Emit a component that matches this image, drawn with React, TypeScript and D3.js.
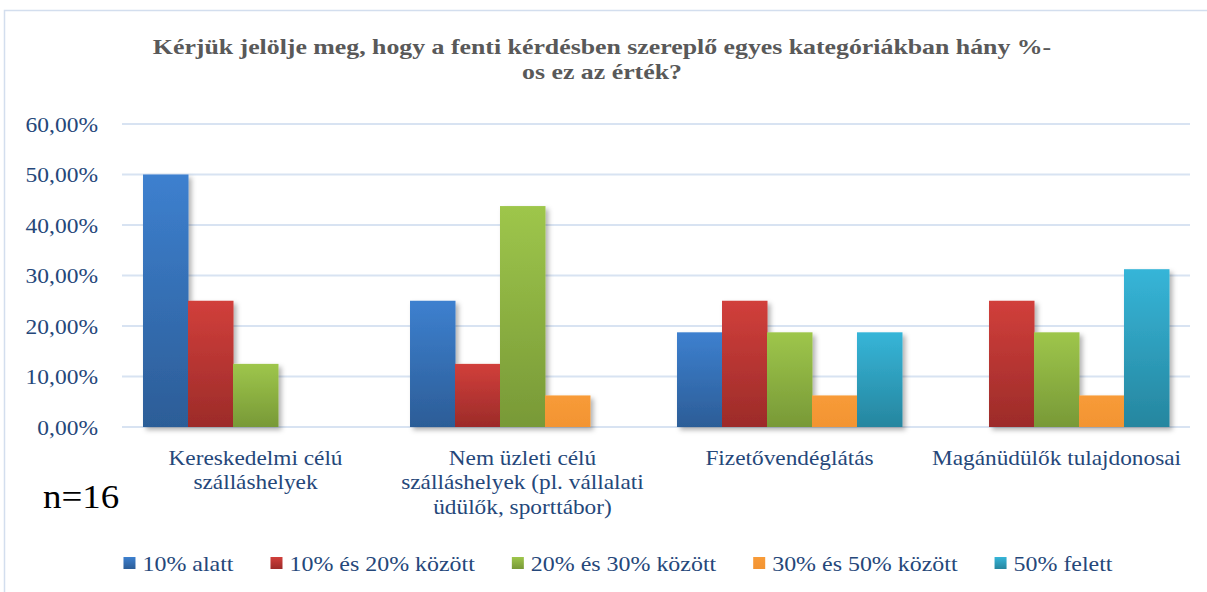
import React, { useRef, useEffect } from "react";
import * as d3 from "d3";

const title = [
  "Kérjük jelölje meg, hogy a fenti kérdésben szereplő egyes kategóriákban hány %-",
  "os ez az érték?",
];
const categories = [
  ["Kereskedelmi célú", "szálláshelyek"],
  ["Nem üzleti célú", "szálláshelyek (pl. vállalati", "üdülők, sporttábor)"],
  ["Fizetővendéglátás"],
  ["Magánüdülők tulajdonosai"],
];
const seriesNames = [
  "10% alatt",
  "10% és 20% között",
  "20% és 30% között",
  "30% és 50% között",
  "50% felett",
];
// share of respondents per category (n=16)
const under10 = [0.5, 0.25, 0.1875, 0];
const from10to20 = [0.25, 0.125, 0.25, 0.25];
const from20to30 = [0.125, 0.4375, 0.1875, 0.1875];
const from30to50 = [0, 0.0625, 0.0625, 0.0625];
const over50 = [0, 0, 0.1875, 0.3125];
const yTicks = [0, 0.1, 0.2, 0.3, 0.4, 0.5, 0.6];

const seriesValues = [under10, from10to20, from20to30, from30to50, over50];
// top / bottom gradient colours
const seriesColors = [
  ["#3D80CF", "#2C5D97"],
  ["#D13F3B", "#9C2B29"],
  ["#9EC64B", "#789937"],
  ["#F89B38", "#F29432"],
  ["#36B5D8", "#26869F"],
];

const FONT = "Liberation Serif, Times New Roman, DejaVu Serif, serif";
const TEXT_COLOR = "#25477A";

export default function App() {
  const svgRef = useRef<SVGSVGElement>(null);

  useEffect(() => {
    const svg = d3.select(svgRef.current);
    svg.selectAll("*").remove();

    const margin = { top: 124, left: 122, right: 17, bottom: 165 };
    const W = 1207;
    const H = 592;

    const defs = svg.append("defs");
    seriesColors.forEach((c, i) => {
      const g = defs
        .append("linearGradient")
        .attr("id", "grad" + i)
        .attr("x1", 0)
        .attr("y1", 0)
        .attr("x2", 0)
        .attr("y2", 1);
      g.append("stop").attr("offset", "0%").attr("stop-color", c[0]);
      g.append("stop").attr("offset", "100%").attr("stop-color", c[1]);
    });
    const f = defs
      .append("filter")
      .attr("id", "shadow")
      .attr("x", "-20%")
      .attr("y", "-20%")
      .attr("width", "150%")
      .attr("height", "150%");
    f.append("feDropShadow")
      .attr("dx", 3)
      .attr("dy", 3)
      .attr("stdDeviation", 2.5)
      .attr("flood-color", "#000")
      .attr("flood-opacity", 0.3);

    // chart border
    svg
      .append("path")
      .attr("d", `M4.5,${H} V10.5 H${W}`)
      .attr("fill", "none")
      .attr("stroke", "#D3DEEE")
      .attr("stroke-width", 1.5);

    // title (text in the source is a little stretched horizontally)
    svg
      .append("g")
      .attr("transform", "translate(602,0) scale(1.23,1)")
      .append("text")
      .style("font-family", FONT)
      .attr("font-weight", "bold")
      .attr("font-size", 21)
      .attr("fill", "#595959")
      .attr("text-anchor", "middle")
      .selectAll("tspan")
      .data(title)
      .enter()
      .append("tspan")
      .attr("x", 0)
      .attr("y", (d, i) => 54 + i * 25)
      .text((d) => d);

    const x0 = d3
      .scaleBand()
      .domain(categories.map((d, i) => String(i)))
      .range([margin.left, W - margin.right])
      .padding(0);
    const x1 = d3
      .scaleBand()
      .domain(seriesNames)
      .range([0, x0.bandwidth()])
      .paddingInner(0)
      .paddingOuter(0.467);
    const y = d3.scaleLinear().domain([0, 0.6]).range([427, 124]);

    // gridlines
    svg
      .append("g")
      .selectAll("line")
      .data(yTicks)
      .enter()
      .append("line")
      .attr("x1", margin.left)
      .attr("x2", x0.range()[1])
      .attr("y1", (d) => y(d))
      .attr("y2", (d) => y(d))
      .attr("stroke", "#D8E3F2")
      .attr("stroke-width", 2);

    // y labels
    const fmt = (v: number) => (v * 100).toFixed(2).replace(".", ",") + "%";
    svg
      .append("g")
      .attr("transform", "translate(98,0) scale(1.12,1)")
      .selectAll("text")
      .data(yTicks)
      .enter()
      .append("text")
      .attr("x", 0)
      .attr("y", (d) => y(d) + 8)
      .attr("text-anchor", "end")
      .style("font-family", FONT)
      .attr("font-size", 21)
      .attr("fill", TEXT_COLOR)
      .text(fmt);

    // bars
    const bars = svg.append("g").attr("filter", "url(#shadow)");
    seriesValues.forEach((vals, si) => {
      bars
        .append("g")
        .selectAll("rect")
        .data(vals.map((v, ci) => ({ v, ci })).filter((d) => d.v > 0))
        .enter()
        .append("rect")
        .attr("x", (d) => x0(String(d.ci))! + x1(seriesNames[si])!)
        .attr("width", x1.bandwidth() + 0.5)
        .attr("y", (d) => y(d.v))
        .attr("height", (d) => y(0) - y(d.v))
        .attr("fill", `url(#grad${si})`);
    });

    // category labels
    categories.forEach((lines, ci) => {
      const cx = x0(String(ci))! + x0.bandwidth() / 2;
      svg
        .append("g")
        .attr("transform", `translate(${cx},0) scale(1.11,1)`)
        .append("text")
        .style("font-family", FONT)
        .attr("font-size", 21)
        .attr("fill", TEXT_COLOR)
        .attr("text-anchor", "middle")
        .selectAll("tspan")
        .data(lines)
        .enter()
        .append("tspan")
        .attr("x", 0)
        .attr("y", (d, i) => 465 + i * 24.5)
        .text((d) => d);
    });

    // n=16
    svg
      .append("g")
      .attr("transform", "translate(43,0) scale(1.12,1)")
      .append("text")
      .attr("x", 0)
      .attr("y", 508)
      .style("font-family", FONT)
      .attr("font-size", 33)
      .attr("fill", "#000")
      .text("n=16");

    // legend
    const sx = 1.14;
    const legend = svg.append("g");
    const items = seriesNames.map((name, i) => {
      const g = legend.append("g");
      g.append("rect")
        .attr("x", 0)
        .attr("y", 557)
        .attr("width", 12)
        .attr("height", 12)
        .attr("fill", `url(#grad${i})`);
      const t = g
        .append("g")
        .attr("transform", `translate(19,0) scale(${sx},1)`)
        .append("text")
        .attr("x", 0)
        .attr("y", 571)
        .style("font-family", FONT)
        .attr("font-size", 21)
        .attr("fill", TEXT_COLOR)
        .text(name);
      const w = (t.node() as SVGTextElement).getComputedTextLength() * sx;
      return { g, w: 19 + w };
    });
    const gap = 37;
    const total = d3.sum(items, (d) => d.w) + gap * (items.length - 1);
    let cur = 618 - total / 2;
    items.forEach((it) => {
      it.g.attr("transform", `translate(${cur},0)`);
      cur += it.w + gap;
    });
  }, []);

  return (
    <svg
      ref={svgRef}
      width={1207}
      height={592}
      style={{ position: "absolute", left: 0, top: 0, background: "#fff" }}
    />
  );
}
